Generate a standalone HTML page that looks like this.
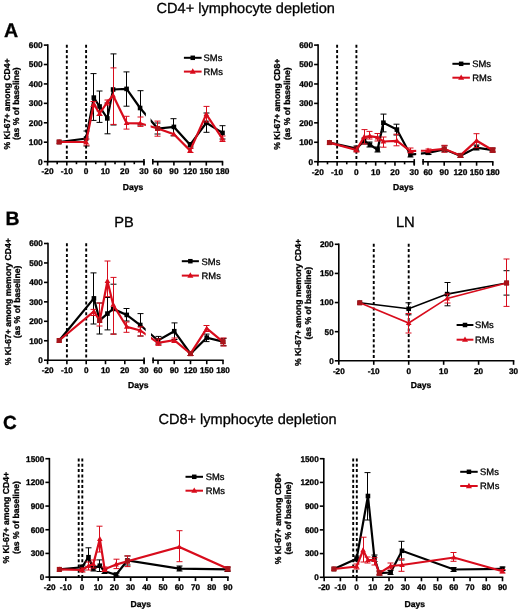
<!DOCTYPE html>
<html><head><meta charset="utf-8"><title>Ki-67 depletion figure</title>
<style>
html,body{margin:0;padding:0;background:#fff;}
body{width:520px;height:612px;overflow:hidden;}
svg{display:block;font-family:"Liberation Sans", sans-serif;will-change:transform;text-rendering:geometricPrecision;}
</style></head>
<body>
<svg width="520" height="612" viewBox="0 0 520 612">
<rect x="0" y="0" width="520" height="612" fill="#fff"/>
<text x="156.6" y="12.6" font-size="14.55" font-weight="normal" text-anchor="start" fill="#000" stroke="#000" stroke-width="0.3" >CD4+ lymphocyte depletion</text>
<text x="3.9" y="36.8" font-size="19.6" font-weight="bold" text-anchor="start" fill="#000" stroke="#000" stroke-width="0.3" >A</text>
<text x="5.5" y="224.5" font-size="19.4" font-weight="bold" text-anchor="start" fill="#000" stroke="#000" stroke-width="0.3" >B</text>
<text x="3.1" y="428.9" font-size="19.0" font-weight="bold" text-anchor="start" fill="#000" stroke="#000" stroke-width="0.3" >C</text>
<text x="114.2" y="227.3" font-size="14.6" font-weight="normal" text-anchor="start" fill="#000" stroke="#000" stroke-width="0.3" >PB</text>
<text x="395.9" y="227.4" font-size="14.8" font-weight="normal" text-anchor="start" fill="#000" stroke="#000" stroke-width="0.3" >LN</text>
<text x="158.4" y="423.6" font-size="14.55" font-weight="normal" text-anchor="start" fill="#000" stroke="#000" stroke-width="0.3" >CD8+ lymphocyte depletion</text>
<line x1="66.82" y1="44.7" x2="66.82" y2="161.6" stroke="#000" stroke-width="1.9" stroke-dasharray="3 2.3"/>
<line x1="86.1" y1="44.7" x2="86.1" y2="161.6" stroke="#000" stroke-width="1.9" stroke-dasharray="3 2.3"/>
<line x1="86.5" y1="131" x2="86.5" y2="146" stroke="#000" stroke-width="1.0" />
<line x1="83.5" y1="131" x2="89.5" y2="131" stroke="#000" stroke-width="1.0" />
<line x1="83.5" y1="146" x2="89.5" y2="146" stroke="#000" stroke-width="1.0" />
<line x1="93.5" y1="73.6" x2="93.5" y2="120.4" stroke="#000" stroke-width="1.0" />
<line x1="90.5" y1="73.6" x2="96.5" y2="73.6" stroke="#000" stroke-width="1.0" />
<line x1="90.5" y1="120.4" x2="96.5" y2="120.4" stroke="#000" stroke-width="1.0" />
<line x1="99.5" y1="91" x2="99.5" y2="122.4" stroke="#000" stroke-width="1.0" />
<line x1="96.5" y1="91" x2="102.5" y2="91" stroke="#000" stroke-width="1.0" />
<line x1="96.5" y1="122.4" x2="102.5" y2="122.4" stroke="#000" stroke-width="1.0" />
<line x1="107.5" y1="103" x2="107.5" y2="133.8" stroke="#000" stroke-width="1.0" />
<line x1="104.5" y1="103" x2="110.5" y2="103" stroke="#000" stroke-width="1.0" />
<line x1="104.5" y1="133.8" x2="110.5" y2="133.8" stroke="#000" stroke-width="1.0" />
<line x1="113.5" y1="53.9" x2="113.5" y2="125" stroke="#000" stroke-width="1.0" />
<line x1="110.5" y1="53.9" x2="116.5" y2="53.9" stroke="#000" stroke-width="1.0" />
<line x1="110.5" y1="125" x2="116.5" y2="125" stroke="#000" stroke-width="1.0" />
<line x1="126.5" y1="71.9" x2="126.5" y2="106.2" stroke="#000" stroke-width="1.0" />
<line x1="123.5" y1="71.9" x2="129.5" y2="71.9" stroke="#000" stroke-width="1.0" />
<line x1="123.5" y1="106.2" x2="129.5" y2="106.2" stroke="#000" stroke-width="1.0" />
<line x1="140.5" y1="90.7" x2="140.5" y2="125" stroke="#000" stroke-width="1.0" />
<line x1="137.5" y1="90.7" x2="143.5" y2="90.7" stroke="#000" stroke-width="1.0" />
<line x1="137.5" y1="125" x2="143.5" y2="125" stroke="#000" stroke-width="1.0" />
<line x1="157.5" y1="123" x2="157.5" y2="134" stroke="#000" stroke-width="1.0" />
<line x1="154.5" y1="123" x2="160.5" y2="123" stroke="#000" stroke-width="1.0" />
<line x1="154.5" y1="134" x2="160.5" y2="134" stroke="#000" stroke-width="1.0" />
<line x1="173.5" y1="118.7" x2="173.5" y2="135.8" stroke="#000" stroke-width="1.0" />
<line x1="170.5" y1="118.7" x2="176.5" y2="118.7" stroke="#000" stroke-width="1.0" />
<line x1="170.5" y1="135.8" x2="176.5" y2="135.8" stroke="#000" stroke-width="1.0" />
<line x1="190.5" y1="142.5" x2="190.5" y2="147" stroke="#000" stroke-width="1.0" />
<line x1="187.5" y1="142.5" x2="193.5" y2="142.5" stroke="#000" stroke-width="1.0" />
<line x1="187.5" y1="147" x2="193.5" y2="147" stroke="#000" stroke-width="1.0" />
<line x1="206.5" y1="113" x2="206.5" y2="132.3" stroke="#000" stroke-width="1.0" />
<line x1="203.5" y1="113" x2="209.5" y2="113" stroke="#000" stroke-width="1.0" />
<line x1="203.5" y1="132.3" x2="209.5" y2="132.3" stroke="#000" stroke-width="1.0" />
<line x1="222.5" y1="125.7" x2="222.5" y2="139" stroke="#000" stroke-width="1.0" />
<line x1="219.5" y1="125.7" x2="225.5" y2="125.7" stroke="#000" stroke-width="1.0" />
<line x1="219.5" y1="139" x2="225.5" y2="139" stroke="#000" stroke-width="1.0" />
<polyline points="59.11,142 86.1,138.5 93.81,97.6 99.6,106.5 107.31,118.4 113.09,89.5 126.59,88.9 140.08,108 157.7,128.5 173.9,126.9 190.1,144.8 206.3,122.8 222.5,132.9" fill="none" stroke="#000" stroke-width="2.2" stroke-linejoin="miter"/>
<rect x="56.81" y="139.7" width="4.6" height="4.6" fill="#000"/>
<rect x="83.8" y="136.2" width="4.6" height="4.6" fill="#000"/>
<rect x="91.51" y="95.3" width="4.6" height="4.6" fill="#000"/>
<rect x="97.3" y="104.2" width="4.6" height="4.6" fill="#000"/>
<rect x="105.01" y="116.1" width="4.6" height="4.6" fill="#000"/>
<rect x="110.79" y="87.2" width="4.6" height="4.6" fill="#000"/>
<rect x="124.29" y="86.6" width="4.6" height="4.6" fill="#000"/>
<rect x="137.78" y="105.7" width="4.6" height="4.6" fill="#000"/>
<rect x="155.4" y="126.2" width="4.6" height="4.6" fill="#000"/>
<rect x="171.6" y="124.6" width="4.6" height="4.6" fill="#000"/>
<rect x="187.8" y="142.5" width="4.6" height="4.6" fill="#000"/>
<rect x="204" y="120.5" width="4.6" height="4.6" fill="#000"/>
<rect x="220.2" y="130.6" width="4.6" height="4.6" fill="#000"/>
<line x1="86.5" y1="139" x2="86.5" y2="145" stroke="#d80c1c" stroke-width="1.0" />
<line x1="83.5" y1="139" x2="89.5" y2="139" stroke="#d80c1c" stroke-width="1.0" />
<line x1="83.5" y1="145" x2="89.5" y2="145" stroke="#d80c1c" stroke-width="1.0" />
<line x1="93.5" y1="101.5" x2="93.5" y2="106.5" stroke="#d80c1c" stroke-width="1.0" />
<line x1="90.5" y1="101.5" x2="96.5" y2="101.5" stroke="#d80c1c" stroke-width="1.0" />
<line x1="90.5" y1="106.5" x2="96.5" y2="106.5" stroke="#d80c1c" stroke-width="1.0" />
<line x1="99.5" y1="111" x2="99.5" y2="115.5" stroke="#d80c1c" stroke-width="1.0" />
<line x1="96.5" y1="111" x2="102.5" y2="111" stroke="#d80c1c" stroke-width="1.0" />
<line x1="96.5" y1="115.5" x2="102.5" y2="115.5" stroke="#d80c1c" stroke-width="1.0" />
<line x1="107.5" y1="100" x2="107.5" y2="105" stroke="#d80c1c" stroke-width="1.0" />
<line x1="104.5" y1="100" x2="110.5" y2="100" stroke="#d80c1c" stroke-width="1.0" />
<line x1="104.5" y1="105" x2="110.5" y2="105" stroke="#d80c1c" stroke-width="1.0" />
<line x1="113.5" y1="67.9" x2="113.5" y2="124.4" stroke="#d80c1c" stroke-width="1.0" />
<line x1="110.5" y1="67.9" x2="116.5" y2="67.9" stroke="#d80c1c" stroke-width="1.0" />
<line x1="110.5" y1="124.4" x2="116.5" y2="124.4" stroke="#d80c1c" stroke-width="1.0" />
<line x1="126.5" y1="116.3" x2="126.5" y2="129.1" stroke="#d80c1c" stroke-width="1.0" />
<line x1="123.5" y1="116.3" x2="129.5" y2="116.3" stroke="#d80c1c" stroke-width="1.0" />
<line x1="123.5" y1="129.1" x2="129.5" y2="129.1" stroke="#d80c1c" stroke-width="1.0" />
<line x1="140.5" y1="117" x2="140.5" y2="126.4" stroke="#d80c1c" stroke-width="1.0" />
<line x1="137.5" y1="117" x2="143.5" y2="117" stroke="#d80c1c" stroke-width="1.0" />
<line x1="137.5" y1="126.4" x2="143.5" y2="126.4" stroke="#d80c1c" stroke-width="1.0" />
<line x1="157.5" y1="121.1" x2="157.5" y2="136.2" stroke="#d80c1c" stroke-width="1.0" />
<line x1="154.5" y1="121.1" x2="160.5" y2="121.1" stroke="#d80c1c" stroke-width="1.0" />
<line x1="154.5" y1="136.2" x2="160.5" y2="136.2" stroke="#d80c1c" stroke-width="1.0" />
<line x1="190.5" y1="148.5" x2="190.5" y2="152.5" stroke="#d80c1c" stroke-width="1.0" />
<line x1="187.5" y1="148.5" x2="193.5" y2="148.5" stroke="#d80c1c" stroke-width="1.0" />
<line x1="187.5" y1="152.5" x2="193.5" y2="152.5" stroke="#d80c1c" stroke-width="1.0" />
<line x1="206.5" y1="106.4" x2="206.5" y2="122" stroke="#d80c1c" stroke-width="1.0" />
<line x1="203.5" y1="106.4" x2="209.5" y2="106.4" stroke="#d80c1c" stroke-width="1.0" />
<line x1="203.5" y1="122" x2="209.5" y2="122" stroke="#d80c1c" stroke-width="1.0" />
<line x1="222.5" y1="136" x2="222.5" y2="141.5" stroke="#d80c1c" stroke-width="1.0" />
<line x1="219.5" y1="136" x2="225.5" y2="136" stroke="#d80c1c" stroke-width="1.0" />
<line x1="219.5" y1="141.5" x2="225.5" y2="141.5" stroke="#d80c1c" stroke-width="1.0" />
<polyline points="59.11,142 86.1,141.9 93.81,104 99.6,113.5 107.31,102.2 113.09,95.5 126.59,123.1 140.08,123.3 157.7,128.5 173.9,134.2 190.1,150.6 206.3,114.3 222.5,138.8" fill="none" stroke="#d80c1c" stroke-width="2.2" stroke-linejoin="miter"/>
<path d="M59.11 138.98L61.91 144.02L56.31 144.02Z" fill="#d80c1c"/>
<rect x="56.61" y="139.5" width="5" height="5" fill="#a8141a"/>
<path d="M86.1 138.88L88.9 143.92L83.3 143.92Z" fill="#d80c1c"/>
<path d="M93.81 100.98L96.61 106.02L91.01 106.02Z" fill="#d80c1c"/>
<path d="M99.6 110.48L102.4 115.52L96.8 115.52Z" fill="#d80c1c"/>
<path d="M107.31 99.18L110.11 104.22L104.51 104.22Z" fill="#d80c1c"/>
<path d="M113.09 92.48L115.89 97.52L110.29 97.52Z" fill="#d80c1c"/>
<path d="M126.59 120.08L129.39 125.12L123.79 125.12Z" fill="#d80c1c"/>
<path d="M140.08 120.28L142.88 125.32L137.28 125.32Z" fill="#d80c1c"/>
<path d="M157.7 125.48L160.5 130.52L154.9 130.52Z" fill="#d80c1c"/>
<rect x="155.2" y="126" width="5" height="5" fill="#a8141a"/>
<path d="M173.9 131.18L176.7 136.22L171.1 136.22Z" fill="#d80c1c"/>
<path d="M190.1 147.58L192.9 152.62L187.3 152.62Z" fill="#d80c1c"/>
<path d="M206.3 111.28L209.1 116.32L203.5 116.32Z" fill="#d80c1c"/>
<path d="M222.5 135.78L225.3 140.82L219.7 140.82Z" fill="#d80c1c"/>
<rect x="145.9" y="40" width="4.7" height="118.6" fill="#fff"/>
<line x1="47.8" y1="44.3" x2="47.8" y2="162.4" stroke="#000" stroke-width="1.6" />
<line x1="43.8" y1="161.6" x2="47.8" y2="161.6" stroke="#000" stroke-width="1.6" />
<text x="42.7" y="164.5" font-size="8.3" font-weight="bold" text-anchor="end" fill="#000" stroke="#000" stroke-width="0.3" >0</text>
<line x1="43.8" y1="142.18" x2="47.8" y2="142.18" stroke="#000" stroke-width="1.6" />
<text x="42.7" y="145.08" font-size="8.3" font-weight="bold" text-anchor="end" fill="#000" stroke="#000" stroke-width="0.3" >100</text>
<line x1="43.8" y1="122.77" x2="47.8" y2="122.77" stroke="#000" stroke-width="1.6" />
<text x="42.7" y="125.67" font-size="8.3" font-weight="bold" text-anchor="end" fill="#000" stroke="#000" stroke-width="0.3" >200</text>
<line x1="43.8" y1="103.35" x2="47.8" y2="103.35" stroke="#000" stroke-width="1.6" />
<text x="42.7" y="106.25" font-size="8.3" font-weight="bold" text-anchor="end" fill="#000" stroke="#000" stroke-width="0.3" >300</text>
<line x1="43.8" y1="83.93" x2="47.8" y2="83.93" stroke="#000" stroke-width="1.6" />
<text x="42.7" y="86.83" font-size="8.3" font-weight="bold" text-anchor="end" fill="#000" stroke="#000" stroke-width="0.3" >400</text>
<line x1="43.8" y1="64.52" x2="47.8" y2="64.52" stroke="#000" stroke-width="1.6" />
<text x="42.7" y="67.42" font-size="8.3" font-weight="bold" text-anchor="end" fill="#000" stroke="#000" stroke-width="0.3" >500</text>
<line x1="43.8" y1="45.1" x2="47.8" y2="45.1" stroke="#000" stroke-width="1.6" />
<text x="42.7" y="48" font-size="8.3" font-weight="bold" text-anchor="end" fill="#000" stroke="#000" stroke-width="0.3" >600</text>
<line x1="47" y1="161.6" x2="144.74" y2="161.6" stroke="#000" stroke-width="1.6" />
<line x1="47.54" y1="161.6" x2="47.54" y2="165.6" stroke="#000" stroke-width="1.6" />
<text x="47.54" y="174.4" font-size="8.3" font-weight="bold" text-anchor="middle" fill="#000" stroke="#000" stroke-width="0.3" >-20</text>
<line x1="66.82" y1="161.6" x2="66.82" y2="165.6" stroke="#000" stroke-width="1.6" />
<text x="66.82" y="174.4" font-size="8.3" font-weight="bold" text-anchor="middle" fill="#000" stroke="#000" stroke-width="0.3" >-10</text>
<line x1="86.1" y1="161.6" x2="86.1" y2="165.6" stroke="#000" stroke-width="1.6" />
<text x="86.1" y="174.4" font-size="8.3" font-weight="bold" text-anchor="middle" fill="#000" stroke="#000" stroke-width="0.3" >0</text>
<line x1="105.38" y1="161.6" x2="105.38" y2="165.6" stroke="#000" stroke-width="1.6" />
<text x="105.38" y="174.4" font-size="8.3" font-weight="bold" text-anchor="middle" fill="#000" stroke="#000" stroke-width="0.3" >10</text>
<line x1="124.66" y1="161.6" x2="124.66" y2="165.6" stroke="#000" stroke-width="1.6" />
<text x="124.66" y="174.4" font-size="8.3" font-weight="bold" text-anchor="middle" fill="#000" stroke="#000" stroke-width="0.3" >20</text>
<line x1="143.94" y1="161.6" x2="143.94" y2="165.6" stroke="#000" stroke-width="1.6" />
<text x="143.94" y="174.4" font-size="8.3" font-weight="bold" text-anchor="middle" fill="#000" stroke="#000" stroke-width="0.3" >30</text>
<line x1="57.18" y1="161.6" x2="57.18" y2="164.2" stroke="#000" stroke-width="1.6" />
<line x1="76.46" y1="161.6" x2="76.46" y2="164.2" stroke="#000" stroke-width="1.6" />
<line x1="95.74" y1="161.6" x2="95.74" y2="164.2" stroke="#000" stroke-width="1.6" />
<line x1="115.02" y1="161.6" x2="115.02" y2="164.2" stroke="#000" stroke-width="1.6" />
<line x1="134.3" y1="161.6" x2="134.3" y2="164.2" stroke="#000" stroke-width="1.6" />
<line x1="143.94" y1="159" x2="143.94" y2="164.6" stroke="#000" stroke-width="1.6" />
<line x1="152" y1="161.6" x2="223.2" y2="161.6" stroke="#000" stroke-width="1.6" />
<line x1="157.7" y1="161.6" x2="157.7" y2="165.6" stroke="#000" stroke-width="1.6" />
<text x="157.7" y="174.4" font-size="8.3" font-weight="bold" text-anchor="middle" fill="#000" stroke="#000" stroke-width="0.3" >60</text>
<line x1="173.9" y1="161.6" x2="173.9" y2="165.6" stroke="#000" stroke-width="1.6" />
<text x="173.9" y="174.4" font-size="8.3" font-weight="bold" text-anchor="middle" fill="#000" stroke="#000" stroke-width="0.3" >90</text>
<line x1="190.1" y1="161.6" x2="190.1" y2="165.6" stroke="#000" stroke-width="1.6" />
<text x="190.1" y="174.4" font-size="8.3" font-weight="bold" text-anchor="middle" fill="#000" stroke="#000" stroke-width="0.3" >120</text>
<line x1="206.3" y1="161.6" x2="206.3" y2="165.6" stroke="#000" stroke-width="1.6" />
<text x="206.3" y="174.4" font-size="8.3" font-weight="bold" text-anchor="middle" fill="#000" stroke="#000" stroke-width="0.3" >150</text>
<line x1="222.5" y1="161.6" x2="222.5" y2="165.6" stroke="#000" stroke-width="1.6" />
<text x="222.5" y="174.4" font-size="8.3" font-weight="bold" text-anchor="middle" fill="#000" stroke="#000" stroke-width="0.3" >180</text>
<line x1="152.8" y1="159" x2="152.8" y2="164.6" stroke="#000" stroke-width="1.6" />
<text x="122.7" y="189.5" font-size="8.6" font-weight="bold" text-anchor="start" fill="#000" stroke="#000" stroke-width="0.3" >Days</text>
<line x1="183.9" y1="57.8" x2="201.6" y2="57.8" stroke="#000" stroke-width="2.0" />
<rect x="190.5" y="55.55" width="4.5" height="4.5" fill="#000"/>
<text x="203.6" y="61.1" font-size="9.4" font-weight="normal" text-anchor="start" fill="#000" stroke="#000" stroke-width="0.3" >SMs</text>
<line x1="183.9" y1="71.6" x2="201.6" y2="71.6" stroke="#d80c1c" stroke-width="2.0" />
<path d="M192.75 68.36L195.75 73.76L189.75 73.76Z" fill="#d80c1c"/>
<text x="203.6" y="74.9" font-size="9.4" font-weight="normal" text-anchor="start" fill="#000" stroke="#000" stroke-width="0.3" >RMs</text>
<text x="0" y="0" font-size="8.6" font-weight="bold" text-anchor="middle" fill="#000" stroke="#000" stroke-width="0.3" transform="translate(9.6,104) rotate(-90)">% Ki-67+ among CD4+</text>
<text x="0" y="0" font-size="8.6" font-weight="bold" text-anchor="middle" fill="#000" stroke="#000" stroke-width="0.3" transform="translate(19.4,103.75) rotate(-90)">(as % of baseline)</text>
<line x1="337.12" y1="44.7" x2="337.12" y2="161.7" stroke="#000" stroke-width="1.9" stroke-dasharray="3 2.3"/>
<line x1="356.4" y1="44.7" x2="356.4" y2="161.7" stroke="#000" stroke-width="1.9" stroke-dasharray="3 2.3"/>
<line x1="356.5" y1="146" x2="356.5" y2="151" stroke="#000" stroke-width="1.0" />
<line x1="353.5" y1="146" x2="359.5" y2="146" stroke="#000" stroke-width="1.0" />
<line x1="353.5" y1="151" x2="359.5" y2="151" stroke="#000" stroke-width="1.0" />
<line x1="364.5" y1="138" x2="364.5" y2="144" stroke="#000" stroke-width="1.0" />
<line x1="361.5" y1="138" x2="367.5" y2="138" stroke="#000" stroke-width="1.0" />
<line x1="361.5" y1="144" x2="367.5" y2="144" stroke="#000" stroke-width="1.0" />
<line x1="369.5" y1="142" x2="369.5" y2="147" stroke="#000" stroke-width="1.0" />
<line x1="366.5" y1="142" x2="372.5" y2="142" stroke="#000" stroke-width="1.0" />
<line x1="366.5" y1="147" x2="372.5" y2="147" stroke="#000" stroke-width="1.0" />
<line x1="377.5" y1="147" x2="377.5" y2="152" stroke="#000" stroke-width="1.0" />
<line x1="374.5" y1="147" x2="380.5" y2="147" stroke="#000" stroke-width="1.0" />
<line x1="374.5" y1="152" x2="380.5" y2="152" stroke="#000" stroke-width="1.0" />
<line x1="383.5" y1="114.1" x2="383.5" y2="131.9" stroke="#000" stroke-width="1.0" />
<line x1="380.5" y1="114.1" x2="386.5" y2="114.1" stroke="#000" stroke-width="1.0" />
<line x1="380.5" y1="131.9" x2="386.5" y2="131.9" stroke="#000" stroke-width="1.0" />
<line x1="396.5" y1="124.2" x2="396.5" y2="135" stroke="#000" stroke-width="1.0" />
<line x1="393.5" y1="124.2" x2="399.5" y2="124.2" stroke="#000" stroke-width="1.0" />
<line x1="393.5" y1="135" x2="399.5" y2="135" stroke="#000" stroke-width="1.0" />
<line x1="410.5" y1="152" x2="410.5" y2="157" stroke="#000" stroke-width="1.0" />
<line x1="407.5" y1="152" x2="413.5" y2="152" stroke="#000" stroke-width="1.0" />
<line x1="407.5" y1="157" x2="413.5" y2="157" stroke="#000" stroke-width="1.0" />
<line x1="428.5" y1="151" x2="428.5" y2="154.5" stroke="#000" stroke-width="1.0" />
<line x1="425.5" y1="151" x2="431.5" y2="151" stroke="#000" stroke-width="1.0" />
<line x1="425.5" y1="154.5" x2="431.5" y2="154.5" stroke="#000" stroke-width="1.0" />
<line x1="444.5" y1="145.8" x2="444.5" y2="151.9" stroke="#000" stroke-width="1.0" />
<line x1="441.5" y1="145.8" x2="447.5" y2="145.8" stroke="#000" stroke-width="1.0" />
<line x1="441.5" y1="151.9" x2="447.5" y2="151.9" stroke="#000" stroke-width="1.0" />
<line x1="460.5" y1="154" x2="460.5" y2="157.5" stroke="#000" stroke-width="1.0" />
<line x1="457.5" y1="154" x2="463.5" y2="154" stroke="#000" stroke-width="1.0" />
<line x1="457.5" y1="157.5" x2="463.5" y2="157.5" stroke="#000" stroke-width="1.0" />
<line x1="476.5" y1="145" x2="476.5" y2="150" stroke="#000" stroke-width="1.0" />
<line x1="473.5" y1="145" x2="479.5" y2="145" stroke="#000" stroke-width="1.0" />
<line x1="473.5" y1="150" x2="479.5" y2="150" stroke="#000" stroke-width="1.0" />
<line x1="492.5" y1="148" x2="492.5" y2="152" stroke="#000" stroke-width="1.0" />
<line x1="489.5" y1="148" x2="495.5" y2="148" stroke="#000" stroke-width="1.0" />
<line x1="489.5" y1="152" x2="495.5" y2="152" stroke="#000" stroke-width="1.0" />
<polyline points="329.41,142.6 356.4,148.5 364.11,141 369.9,144.7 377.61,149.6 383.39,122.7 396.89,129.6 410.38,154.7 428,152.8 444.2,149.3 460.4,155.7 476.6,147.6 492.8,150.2" fill="none" stroke="#000" stroke-width="2.2" stroke-linejoin="miter"/>
<rect x="327.11" y="140.3" width="4.6" height="4.6" fill="#000"/>
<rect x="354.1" y="146.2" width="4.6" height="4.6" fill="#000"/>
<rect x="361.81" y="138.7" width="4.6" height="4.6" fill="#000"/>
<rect x="367.6" y="142.4" width="4.6" height="4.6" fill="#000"/>
<rect x="375.31" y="147.3" width="4.6" height="4.6" fill="#000"/>
<rect x="381.09" y="120.4" width="4.6" height="4.6" fill="#000"/>
<rect x="394.59" y="127.3" width="4.6" height="4.6" fill="#000"/>
<rect x="408.08" y="152.4" width="4.6" height="4.6" fill="#000"/>
<rect x="425.7" y="150.5" width="4.6" height="4.6" fill="#000"/>
<rect x="441.9" y="147" width="4.6" height="4.6" fill="#000"/>
<rect x="458.1" y="153.4" width="4.6" height="4.6" fill="#000"/>
<rect x="474.3" y="145.3" width="4.6" height="4.6" fill="#000"/>
<rect x="490.5" y="147.9" width="4.6" height="4.6" fill="#000"/>
<line x1="356.5" y1="147" x2="356.5" y2="152" stroke="#d80c1c" stroke-width="1.0" />
<line x1="353.5" y1="147" x2="359.5" y2="147" stroke="#d80c1c" stroke-width="1.0" />
<line x1="353.5" y1="152" x2="359.5" y2="152" stroke="#d80c1c" stroke-width="1.0" />
<line x1="364.5" y1="129.6" x2="364.5" y2="144" stroke="#d80c1c" stroke-width="1.0" />
<line x1="361.5" y1="129.6" x2="367.5" y2="129.6" stroke="#d80c1c" stroke-width="1.0" />
<line x1="361.5" y1="144" x2="367.5" y2="144" stroke="#d80c1c" stroke-width="1.0" />
<line x1="369.5" y1="131.4" x2="369.5" y2="139" stroke="#d80c1c" stroke-width="1.0" />
<line x1="366.5" y1="131.4" x2="372.5" y2="131.4" stroke="#d80c1c" stroke-width="1.0" />
<line x1="366.5" y1="139" x2="372.5" y2="139" stroke="#d80c1c" stroke-width="1.0" />
<line x1="377.5" y1="133.5" x2="377.5" y2="141" stroke="#d80c1c" stroke-width="1.0" />
<line x1="374.5" y1="133.5" x2="380.5" y2="133.5" stroke="#d80c1c" stroke-width="1.0" />
<line x1="374.5" y1="141" x2="380.5" y2="141" stroke="#d80c1c" stroke-width="1.0" />
<line x1="383.5" y1="137" x2="383.5" y2="147.2" stroke="#d80c1c" stroke-width="1.0" />
<line x1="380.5" y1="137" x2="386.5" y2="137" stroke="#d80c1c" stroke-width="1.0" />
<line x1="380.5" y1="147.2" x2="386.5" y2="147.2" stroke="#d80c1c" stroke-width="1.0" />
<line x1="396.5" y1="134.2" x2="396.5" y2="145.8" stroke="#d80c1c" stroke-width="1.0" />
<line x1="393.5" y1="134.2" x2="399.5" y2="134.2" stroke="#d80c1c" stroke-width="1.0" />
<line x1="393.5" y1="145.8" x2="399.5" y2="145.8" stroke="#d80c1c" stroke-width="1.0" />
<line x1="410.5" y1="148" x2="410.5" y2="152.7" stroke="#d80c1c" stroke-width="1.0" />
<line x1="407.5" y1="148" x2="413.5" y2="148" stroke="#d80c1c" stroke-width="1.0" />
<line x1="407.5" y1="152.7" x2="413.5" y2="152.7" stroke="#d80c1c" stroke-width="1.0" />
<line x1="428.5" y1="149" x2="428.5" y2="152" stroke="#d80c1c" stroke-width="1.0" />
<line x1="425.5" y1="149" x2="431.5" y2="149" stroke="#d80c1c" stroke-width="1.0" />
<line x1="425.5" y1="152" x2="431.5" y2="152" stroke="#d80c1c" stroke-width="1.0" />
<line x1="444.5" y1="145.3" x2="444.5" y2="152.2" stroke="#d80c1c" stroke-width="1.0" />
<line x1="441.5" y1="145.3" x2="447.5" y2="145.3" stroke="#d80c1c" stroke-width="1.0" />
<line x1="441.5" y1="152.2" x2="447.5" y2="152.2" stroke="#d80c1c" stroke-width="1.0" />
<line x1="460.5" y1="154" x2="460.5" y2="157" stroke="#d80c1c" stroke-width="1.0" />
<line x1="457.5" y1="154" x2="463.5" y2="154" stroke="#d80c1c" stroke-width="1.0" />
<line x1="457.5" y1="157" x2="463.5" y2="157" stroke="#d80c1c" stroke-width="1.0" />
<line x1="476.5" y1="133.7" x2="476.5" y2="147.7" stroke="#d80c1c" stroke-width="1.0" />
<line x1="473.5" y1="133.7" x2="479.5" y2="133.7" stroke="#d80c1c" stroke-width="1.0" />
<line x1="473.5" y1="147.7" x2="479.5" y2="147.7" stroke="#d80c1c" stroke-width="1.0" />
<line x1="492.5" y1="148" x2="492.5" y2="152" stroke="#d80c1c" stroke-width="1.0" />
<line x1="489.5" y1="148" x2="495.5" y2="148" stroke="#d80c1c" stroke-width="1.0" />
<line x1="489.5" y1="152" x2="495.5" y2="152" stroke="#d80c1c" stroke-width="1.0" />
<polyline points="329.41,142.6 356.4,150 364.11,137 369.9,136.1 377.61,137.4 383.39,141.5 396.89,140.8 410.38,151.2 428,150.5 444.2,148.8 460.4,155.4 476.6,140.7 492.8,150.2" fill="none" stroke="#d80c1c" stroke-width="2.2" stroke-linejoin="miter"/>
<path d="M329.41 139.58L332.21 144.62L326.61 144.62Z" fill="#d80c1c"/>
<rect x="326.91" y="140.1" width="5" height="5" fill="#a8141a"/>
<path d="M356.4 146.98L359.2 152.02L353.6 152.02Z" fill="#d80c1c"/>
<path d="M364.11 133.98L366.91 139.02L361.31 139.02Z" fill="#d80c1c"/>
<path d="M369.9 133.08L372.7 138.12L367.1 138.12Z" fill="#d80c1c"/>
<path d="M377.61 134.38L380.41 139.42L374.81 139.42Z" fill="#d80c1c"/>
<path d="M383.39 138.48L386.19 143.52L380.59 143.52Z" fill="#d80c1c"/>
<path d="M396.89 137.78L399.69 142.82L394.09 142.82Z" fill="#d80c1c"/>
<path d="M410.38 148.18L413.18 153.22L407.58 153.22Z" fill="#d80c1c"/>
<path d="M428 147.48L430.8 152.52L425.2 152.52Z" fill="#d80c1c"/>
<path d="M444.2 145.78L447 150.82L441.4 150.82Z" fill="#d80c1c"/>
<rect x="441.7" y="146.3" width="5" height="5" fill="#a8141a"/>
<path d="M460.4 152.38L463.2 157.42L457.6 157.42Z" fill="#d80c1c"/>
<rect x="457.9" y="152.9" width="5" height="5" fill="#a8141a"/>
<path d="M476.6 137.68L479.4 142.72L473.8 142.72Z" fill="#d80c1c"/>
<path d="M492.8 147.18L495.6 152.22L490 152.22Z" fill="#d80c1c"/>
<rect x="490.3" y="147.7" width="5" height="5" fill="#a8141a"/>
<rect x="416.2" y="40" width="4.7" height="118.7" fill="#fff"/>
<line x1="318.1" y1="44.3" x2="318.1" y2="162.5" stroke="#000" stroke-width="1.6" />
<line x1="314.1" y1="161.7" x2="318.1" y2="161.7" stroke="#000" stroke-width="1.6" />
<text x="313" y="164.6" font-size="8.3" font-weight="bold" text-anchor="end" fill="#000" stroke="#000" stroke-width="0.3" >0</text>
<line x1="314.1" y1="142.27" x2="318.1" y2="142.27" stroke="#000" stroke-width="1.6" />
<text x="313" y="145.17" font-size="8.3" font-weight="bold" text-anchor="end" fill="#000" stroke="#000" stroke-width="0.3" >100</text>
<line x1="314.1" y1="122.83" x2="318.1" y2="122.83" stroke="#000" stroke-width="1.6" />
<text x="313" y="125.73" font-size="8.3" font-weight="bold" text-anchor="end" fill="#000" stroke="#000" stroke-width="0.3" >200</text>
<line x1="314.1" y1="103.4" x2="318.1" y2="103.4" stroke="#000" stroke-width="1.6" />
<text x="313" y="106.3" font-size="8.3" font-weight="bold" text-anchor="end" fill="#000" stroke="#000" stroke-width="0.3" >300</text>
<line x1="314.1" y1="83.97" x2="318.1" y2="83.97" stroke="#000" stroke-width="1.6" />
<text x="313" y="86.87" font-size="8.3" font-weight="bold" text-anchor="end" fill="#000" stroke="#000" stroke-width="0.3" >400</text>
<line x1="314.1" y1="64.53" x2="318.1" y2="64.53" stroke="#000" stroke-width="1.6" />
<text x="313" y="67.43" font-size="8.3" font-weight="bold" text-anchor="end" fill="#000" stroke="#000" stroke-width="0.3" >500</text>
<line x1="314.1" y1="45.1" x2="318.1" y2="45.1" stroke="#000" stroke-width="1.6" />
<text x="313" y="48" font-size="8.3" font-weight="bold" text-anchor="end" fill="#000" stroke="#000" stroke-width="0.3" >600</text>
<line x1="317.3" y1="161.7" x2="415.04" y2="161.7" stroke="#000" stroke-width="1.6" />
<line x1="317.84" y1="161.7" x2="317.84" y2="165.7" stroke="#000" stroke-width="1.6" />
<text x="317.84" y="174.5" font-size="8.3" font-weight="bold" text-anchor="middle" fill="#000" stroke="#000" stroke-width="0.3" >-20</text>
<line x1="337.12" y1="161.7" x2="337.12" y2="165.7" stroke="#000" stroke-width="1.6" />
<text x="337.12" y="174.5" font-size="8.3" font-weight="bold" text-anchor="middle" fill="#000" stroke="#000" stroke-width="0.3" >-10</text>
<line x1="356.4" y1="161.7" x2="356.4" y2="165.7" stroke="#000" stroke-width="1.6" />
<text x="356.4" y="174.5" font-size="8.3" font-weight="bold" text-anchor="middle" fill="#000" stroke="#000" stroke-width="0.3" >0</text>
<line x1="375.68" y1="161.7" x2="375.68" y2="165.7" stroke="#000" stroke-width="1.6" />
<text x="375.68" y="174.5" font-size="8.3" font-weight="bold" text-anchor="middle" fill="#000" stroke="#000" stroke-width="0.3" >10</text>
<line x1="394.96" y1="161.7" x2="394.96" y2="165.7" stroke="#000" stroke-width="1.6" />
<text x="394.96" y="174.5" font-size="8.3" font-weight="bold" text-anchor="middle" fill="#000" stroke="#000" stroke-width="0.3" >20</text>
<line x1="414.24" y1="161.7" x2="414.24" y2="165.7" stroke="#000" stroke-width="1.6" />
<text x="414.24" y="174.5" font-size="8.3" font-weight="bold" text-anchor="middle" fill="#000" stroke="#000" stroke-width="0.3" >30</text>
<line x1="327.48" y1="161.7" x2="327.48" y2="164.3" stroke="#000" stroke-width="1.6" />
<line x1="346.76" y1="161.7" x2="346.76" y2="164.3" stroke="#000" stroke-width="1.6" />
<line x1="366.04" y1="161.7" x2="366.04" y2="164.3" stroke="#000" stroke-width="1.6" />
<line x1="385.32" y1="161.7" x2="385.32" y2="164.3" stroke="#000" stroke-width="1.6" />
<line x1="404.6" y1="161.7" x2="404.6" y2="164.3" stroke="#000" stroke-width="1.6" />
<line x1="414.24" y1="159.1" x2="414.24" y2="164.7" stroke="#000" stroke-width="1.6" />
<line x1="422.3" y1="161.7" x2="493.5" y2="161.7" stroke="#000" stroke-width="1.6" />
<line x1="428" y1="161.7" x2="428" y2="165.7" stroke="#000" stroke-width="1.6" />
<text x="428" y="174.5" font-size="8.3" font-weight="bold" text-anchor="middle" fill="#000" stroke="#000" stroke-width="0.3" >60</text>
<line x1="444.2" y1="161.7" x2="444.2" y2="165.7" stroke="#000" stroke-width="1.6" />
<text x="444.2" y="174.5" font-size="8.3" font-weight="bold" text-anchor="middle" fill="#000" stroke="#000" stroke-width="0.3" >90</text>
<line x1="460.4" y1="161.7" x2="460.4" y2="165.7" stroke="#000" stroke-width="1.6" />
<text x="460.4" y="174.5" font-size="8.3" font-weight="bold" text-anchor="middle" fill="#000" stroke="#000" stroke-width="0.3" >120</text>
<line x1="476.6" y1="161.7" x2="476.6" y2="165.7" stroke="#000" stroke-width="1.6" />
<text x="476.6" y="174.5" font-size="8.3" font-weight="bold" text-anchor="middle" fill="#000" stroke="#000" stroke-width="0.3" >150</text>
<line x1="492.8" y1="161.7" x2="492.8" y2="165.7" stroke="#000" stroke-width="1.6" />
<text x="492.8" y="174.5" font-size="8.3" font-weight="bold" text-anchor="middle" fill="#000" stroke="#000" stroke-width="0.3" >180</text>
<line x1="423.1" y1="159.1" x2="423.1" y2="164.7" stroke="#000" stroke-width="1.6" />
<text x="393" y="189.6" font-size="8.6" font-weight="bold" text-anchor="start" fill="#000" stroke="#000" stroke-width="0.3" >Days</text>
<line x1="452.4" y1="63.8" x2="469.9" y2="63.8" stroke="#000" stroke-width="2.0" />
<rect x="458.9" y="61.55" width="4.5" height="4.5" fill="#000"/>
<text x="472.3" y="67.1" font-size="9.4" font-weight="normal" text-anchor="start" fill="#000" stroke="#000" stroke-width="0.3" >SMs</text>
<line x1="452.4" y1="77.7" x2="469.9" y2="77.7" stroke="#d80c1c" stroke-width="2.0" />
<path d="M461.15 74.46L464.15 79.86L458.15 79.86Z" fill="#d80c1c"/>
<text x="472.3" y="81" font-size="9.4" font-weight="normal" text-anchor="start" fill="#000" stroke="#000" stroke-width="0.3" >RMs</text>
<text x="0" y="0" font-size="8.6" font-weight="bold" text-anchor="middle" fill="#000" stroke="#000" stroke-width="0.3" transform="translate(280,104.25) rotate(-90)">% Ki-67+ among CD8+</text>
<text x="0" y="0" font-size="8.6" font-weight="bold" text-anchor="middle" fill="#000" stroke="#000" stroke-width="0.3" transform="translate(289.6,103.75) rotate(-90)">(as % of baseline)</text>
<line x1="66.9" y1="243.3" x2="66.9" y2="360.2" stroke="#000" stroke-width="1.9" stroke-dasharray="3 2.3"/>
<line x1="86.2" y1="243.3" x2="86.2" y2="360.2" stroke="#000" stroke-width="1.9" stroke-dasharray="3 2.3"/>
<line x1="93.5" y1="272.9" x2="93.5" y2="324" stroke="#000" stroke-width="1.0" />
<line x1="90.5" y1="272.9" x2="96.5" y2="272.9" stroke="#000" stroke-width="1.0" />
<line x1="90.5" y1="324" x2="96.5" y2="324" stroke="#000" stroke-width="1.0" />
<line x1="99.5" y1="303" x2="99.5" y2="334" stroke="#000" stroke-width="1.0" />
<line x1="96.5" y1="303" x2="102.5" y2="303" stroke="#000" stroke-width="1.0" />
<line x1="96.5" y1="334" x2="102.5" y2="334" stroke="#000" stroke-width="1.0" />
<line x1="107.5" y1="297.5" x2="107.5" y2="329.9" stroke="#000" stroke-width="1.0" />
<line x1="104.5" y1="297.5" x2="110.5" y2="297.5" stroke="#000" stroke-width="1.0" />
<line x1="104.5" y1="329.9" x2="110.5" y2="329.9" stroke="#000" stroke-width="1.0" />
<line x1="113.5" y1="284.2" x2="113.5" y2="334" stroke="#000" stroke-width="1.0" />
<line x1="110.5" y1="284.2" x2="116.5" y2="284.2" stroke="#000" stroke-width="1.0" />
<line x1="110.5" y1="334" x2="116.5" y2="334" stroke="#000" stroke-width="1.0" />
<line x1="126.5" y1="308.5" x2="126.5" y2="321" stroke="#000" stroke-width="1.0" />
<line x1="123.5" y1="308.5" x2="129.5" y2="308.5" stroke="#000" stroke-width="1.0" />
<line x1="123.5" y1="321" x2="129.5" y2="321" stroke="#000" stroke-width="1.0" />
<line x1="140.5" y1="313.6" x2="140.5" y2="336" stroke="#000" stroke-width="1.0" />
<line x1="137.5" y1="313.6" x2="143.5" y2="313.6" stroke="#000" stroke-width="1.0" />
<line x1="137.5" y1="336" x2="143.5" y2="336" stroke="#000" stroke-width="1.0" />
<line x1="158.5" y1="336.4" x2="158.5" y2="344" stroke="#000" stroke-width="1.0" />
<line x1="155.5" y1="336.4" x2="161.5" y2="336.4" stroke="#000" stroke-width="1.0" />
<line x1="155.5" y1="344" x2="161.5" y2="344" stroke="#000" stroke-width="1.0" />
<line x1="174.5" y1="322.9" x2="174.5" y2="339.5" stroke="#000" stroke-width="1.0" />
<line x1="171.5" y1="322.9" x2="177.5" y2="322.9" stroke="#000" stroke-width="1.0" />
<line x1="171.5" y1="339.5" x2="177.5" y2="339.5" stroke="#000" stroke-width="1.0" />
<line x1="190.5" y1="352" x2="190.5" y2="355.5" stroke="#000" stroke-width="1.0" />
<line x1="187.5" y1="352" x2="193.5" y2="352" stroke="#000" stroke-width="1.0" />
<line x1="187.5" y1="355.5" x2="193.5" y2="355.5" stroke="#000" stroke-width="1.0" />
<line x1="206.5" y1="334.1" x2="206.5" y2="341.6" stroke="#000" stroke-width="1.0" />
<line x1="203.5" y1="334.1" x2="209.5" y2="334.1" stroke="#000" stroke-width="1.0" />
<line x1="203.5" y1="341.6" x2="209.5" y2="341.6" stroke="#000" stroke-width="1.0" />
<line x1="223.5" y1="338.4" x2="223.5" y2="345.7" stroke="#000" stroke-width="1.0" />
<line x1="220.5" y1="338.4" x2="226.5" y2="338.4" stroke="#000" stroke-width="1.0" />
<line x1="220.5" y1="345.7" x2="226.5" y2="345.7" stroke="#000" stroke-width="1.0" />
<polyline points="59.18,340.5 93.92,298.4 99.71,320.4 107.43,313.6 113.22,308.9 126.73,314.9 140.24,325 158,340.5 174.25,331.2 190.5,353.7 206.75,337.6 223,341.6" fill="none" stroke="#000" stroke-width="2.2" stroke-linejoin="miter"/>
<rect x="56.88" y="338.2" width="4.6" height="4.6" fill="#000"/>
<rect x="91.62" y="296.1" width="4.6" height="4.6" fill="#000"/>
<rect x="97.41" y="318.1" width="4.6" height="4.6" fill="#000"/>
<rect x="105.13" y="311.3" width="4.6" height="4.6" fill="#000"/>
<rect x="110.92" y="306.6" width="4.6" height="4.6" fill="#000"/>
<rect x="124.43" y="312.6" width="4.6" height="4.6" fill="#000"/>
<rect x="137.94" y="322.7" width="4.6" height="4.6" fill="#000"/>
<rect x="155.7" y="338.2" width="4.6" height="4.6" fill="#000"/>
<rect x="171.95" y="328.9" width="4.6" height="4.6" fill="#000"/>
<rect x="188.2" y="351.4" width="4.6" height="4.6" fill="#000"/>
<rect x="204.45" y="335.3" width="4.6" height="4.6" fill="#000"/>
<rect x="220.7" y="339.3" width="4.6" height="4.6" fill="#000"/>
<line x1="93.5" y1="309.4" x2="93.5" y2="315.5" stroke="#d80c1c" stroke-width="1.0" />
<line x1="90.5" y1="309.4" x2="96.5" y2="309.4" stroke="#d80c1c" stroke-width="1.0" />
<line x1="90.5" y1="315.5" x2="96.5" y2="315.5" stroke="#d80c1c" stroke-width="1.0" />
<line x1="99.5" y1="303" x2="99.5" y2="326" stroke="#d80c1c" stroke-width="1.0" />
<line x1="96.5" y1="303" x2="102.5" y2="303" stroke="#d80c1c" stroke-width="1.0" />
<line x1="96.5" y1="326" x2="102.5" y2="326" stroke="#d80c1c" stroke-width="1.0" />
<line x1="107.5" y1="261" x2="107.5" y2="296.6" stroke="#d80c1c" stroke-width="1.0" />
<line x1="104.5" y1="261" x2="110.5" y2="261" stroke="#d80c1c" stroke-width="1.0" />
<line x1="104.5" y1="296.6" x2="110.5" y2="296.6" stroke="#d80c1c" stroke-width="1.0" />
<line x1="113.5" y1="277.4" x2="113.5" y2="334.2" stroke="#d80c1c" stroke-width="1.0" />
<line x1="110.5" y1="277.4" x2="116.5" y2="277.4" stroke="#d80c1c" stroke-width="1.0" />
<line x1="110.5" y1="334.2" x2="116.5" y2="334.2" stroke="#d80c1c" stroke-width="1.0" />
<line x1="126.5" y1="322" x2="126.5" y2="332.3" stroke="#d80c1c" stroke-width="1.0" />
<line x1="123.5" y1="322" x2="129.5" y2="322" stroke="#d80c1c" stroke-width="1.0" />
<line x1="123.5" y1="332.3" x2="129.5" y2="332.3" stroke="#d80c1c" stroke-width="1.0" />
<line x1="140.5" y1="326.8" x2="140.5" y2="336" stroke="#d80c1c" stroke-width="1.0" />
<line x1="137.5" y1="326.8" x2="143.5" y2="326.8" stroke="#d80c1c" stroke-width="1.0" />
<line x1="137.5" y1="336" x2="143.5" y2="336" stroke="#d80c1c" stroke-width="1.0" />
<line x1="158.5" y1="339" x2="158.5" y2="345.4" stroke="#d80c1c" stroke-width="1.0" />
<line x1="155.5" y1="339" x2="161.5" y2="339" stroke="#d80c1c" stroke-width="1.0" />
<line x1="155.5" y1="345.4" x2="161.5" y2="345.4" stroke="#d80c1c" stroke-width="1.0" />
<line x1="174.5" y1="338" x2="174.5" y2="342.5" stroke="#d80c1c" stroke-width="1.0" />
<line x1="171.5" y1="338" x2="177.5" y2="338" stroke="#d80c1c" stroke-width="1.0" />
<line x1="171.5" y1="342.5" x2="177.5" y2="342.5" stroke="#d80c1c" stroke-width="1.0" />
<line x1="190.5" y1="352" x2="190.5" y2="355.5" stroke="#d80c1c" stroke-width="1.0" />
<line x1="187.5" y1="352" x2="193.5" y2="352" stroke="#d80c1c" stroke-width="1.0" />
<line x1="187.5" y1="355.5" x2="193.5" y2="355.5" stroke="#d80c1c" stroke-width="1.0" />
<line x1="206.5" y1="325.5" x2="206.5" y2="331.5" stroke="#d80c1c" stroke-width="1.0" />
<line x1="203.5" y1="325.5" x2="209.5" y2="325.5" stroke="#d80c1c" stroke-width="1.0" />
<line x1="203.5" y1="331.5" x2="209.5" y2="331.5" stroke="#d80c1c" stroke-width="1.0" />
<line x1="223.5" y1="338" x2="223.5" y2="346" stroke="#d80c1c" stroke-width="1.0" />
<line x1="220.5" y1="338" x2="226.5" y2="338" stroke="#d80c1c" stroke-width="1.0" />
<line x1="220.5" y1="346" x2="226.5" y2="346" stroke="#d80c1c" stroke-width="1.0" />
<polyline points="59.18,340.5 93.92,311.5 99.71,320.5 107.43,281.1 113.22,304.8 126.73,326.8 140.24,330.4 158,342.8 174.25,340.2 190.5,353.7 206.75,328.4 223,341.9" fill="none" stroke="#d80c1c" stroke-width="2.2" stroke-linejoin="miter"/>
<path d="M59.18 337.48L61.98 342.52L56.38 342.52Z" fill="#d80c1c"/>
<rect x="56.68" y="338" width="5" height="5" fill="#a8141a"/>
<path d="M93.92 308.48L96.72 313.52L91.12 313.52Z" fill="#d80c1c"/>
<path d="M99.71 317.48L102.51 322.52L96.91 322.52Z" fill="#d80c1c"/>
<rect x="97.21" y="318" width="5" height="5" fill="#a8141a"/>
<path d="M107.43 278.08L110.23 283.12L104.63 283.12Z" fill="#d80c1c"/>
<path d="M113.22 301.78L116.02 306.82L110.42 306.82Z" fill="#d80c1c"/>
<path d="M126.73 323.78L129.53 328.82L123.93 328.82Z" fill="#d80c1c"/>
<path d="M140.24 327.38L143.04 332.42L137.44 332.42Z" fill="#d80c1c"/>
<path d="M158 339.78L160.8 344.82L155.2 344.82Z" fill="#d80c1c"/>
<path d="M174.25 337.18L177.05 342.22L171.45 342.22Z" fill="#d80c1c"/>
<path d="M190.5 350.68L193.3 355.72L187.7 355.72Z" fill="#d80c1c"/>
<rect x="188" y="351.2" width="5" height="5" fill="#a8141a"/>
<path d="M206.75 325.38L209.55 330.42L203.95 330.42Z" fill="#d80c1c"/>
<path d="M223 338.88L225.8 343.92L220.2 343.92Z" fill="#d80c1c"/>
<rect x="220.5" y="339.4" width="5" height="5" fill="#a8141a"/>
<rect x="145.7" y="240" width="5.3" height="117.2" fill="#fff"/>
<line x1="48" y1="242.7" x2="48" y2="361" stroke="#000" stroke-width="1.6" />
<line x1="44" y1="360.2" x2="48" y2="360.2" stroke="#000" stroke-width="1.6" />
<text x="42.9" y="363.1" font-size="8.2" font-weight="bold" text-anchor="end" fill="#000" stroke="#000" stroke-width="0.3" >0</text>
<line x1="44" y1="340.75" x2="48" y2="340.75" stroke="#000" stroke-width="1.6" />
<text x="42.9" y="343.65" font-size="8.2" font-weight="bold" text-anchor="end" fill="#000" stroke="#000" stroke-width="0.3" >100</text>
<line x1="44" y1="321.3" x2="48" y2="321.3" stroke="#000" stroke-width="1.6" />
<text x="42.9" y="324.2" font-size="8.2" font-weight="bold" text-anchor="end" fill="#000" stroke="#000" stroke-width="0.3" >200</text>
<line x1="44" y1="301.85" x2="48" y2="301.85" stroke="#000" stroke-width="1.6" />
<text x="42.9" y="304.75" font-size="8.2" font-weight="bold" text-anchor="end" fill="#000" stroke="#000" stroke-width="0.3" >300</text>
<line x1="44" y1="282.4" x2="48" y2="282.4" stroke="#000" stroke-width="1.6" />
<text x="42.9" y="285.3" font-size="8.2" font-weight="bold" text-anchor="end" fill="#000" stroke="#000" stroke-width="0.3" >400</text>
<line x1="44" y1="262.95" x2="48" y2="262.95" stroke="#000" stroke-width="1.6" />
<text x="42.9" y="265.85" font-size="8.2" font-weight="bold" text-anchor="end" fill="#000" stroke="#000" stroke-width="0.3" >500</text>
<line x1="44" y1="243.5" x2="48" y2="243.5" stroke="#000" stroke-width="1.6" />
<text x="42.9" y="246.4" font-size="8.2" font-weight="bold" text-anchor="end" fill="#000" stroke="#000" stroke-width="0.3" >600</text>
<line x1="47.2" y1="360.2" x2="144.9" y2="360.2" stroke="#000" stroke-width="1.6" />
<line x1="47.6" y1="360.2" x2="47.6" y2="364.2" stroke="#000" stroke-width="1.6" />
<text x="47.6" y="373" font-size="8.2" font-weight="bold" text-anchor="middle" fill="#000" stroke="#000" stroke-width="0.3" >-20</text>
<line x1="66.9" y1="360.2" x2="66.9" y2="364.2" stroke="#000" stroke-width="1.6" />
<text x="66.9" y="373" font-size="8.2" font-weight="bold" text-anchor="middle" fill="#000" stroke="#000" stroke-width="0.3" >-10</text>
<line x1="86.2" y1="360.2" x2="86.2" y2="364.2" stroke="#000" stroke-width="1.6" />
<text x="86.2" y="373" font-size="8.2" font-weight="bold" text-anchor="middle" fill="#000" stroke="#000" stroke-width="0.3" >0</text>
<line x1="105.5" y1="360.2" x2="105.5" y2="364.2" stroke="#000" stroke-width="1.6" />
<text x="105.5" y="373" font-size="8.2" font-weight="bold" text-anchor="middle" fill="#000" stroke="#000" stroke-width="0.3" >10</text>
<line x1="124.8" y1="360.2" x2="124.8" y2="364.2" stroke="#000" stroke-width="1.6" />
<text x="124.8" y="373" font-size="8.2" font-weight="bold" text-anchor="middle" fill="#000" stroke="#000" stroke-width="0.3" >20</text>
<line x1="144.1" y1="360.2" x2="144.1" y2="364.2" stroke="#000" stroke-width="1.6" />
<text x="144.1" y="373" font-size="8.2" font-weight="bold" text-anchor="middle" fill="#000" stroke="#000" stroke-width="0.3" >30</text>
<line x1="144.1" y1="357.6" x2="144.1" y2="363.2" stroke="#000" stroke-width="1.6" />
<line x1="152.3" y1="360.2" x2="223.7" y2="360.2" stroke="#000" stroke-width="1.6" />
<line x1="158" y1="360.2" x2="158" y2="364.2" stroke="#000" stroke-width="1.6" />
<text x="158" y="373" font-size="8.2" font-weight="bold" text-anchor="middle" fill="#000" stroke="#000" stroke-width="0.3" >60</text>
<line x1="174.25" y1="360.2" x2="174.25" y2="364.2" stroke="#000" stroke-width="1.6" />
<text x="174.25" y="373" font-size="8.2" font-weight="bold" text-anchor="middle" fill="#000" stroke="#000" stroke-width="0.3" >90</text>
<line x1="190.5" y1="360.2" x2="190.5" y2="364.2" stroke="#000" stroke-width="1.6" />
<text x="190.5" y="373" font-size="8.2" font-weight="bold" text-anchor="middle" fill="#000" stroke="#000" stroke-width="0.3" >120</text>
<line x1="206.75" y1="360.2" x2="206.75" y2="364.2" stroke="#000" stroke-width="1.6" />
<text x="206.75" y="373" font-size="8.2" font-weight="bold" text-anchor="middle" fill="#000" stroke="#000" stroke-width="0.3" >150</text>
<line x1="223" y1="360.2" x2="223" y2="364.2" stroke="#000" stroke-width="1.6" />
<text x="223" y="373" font-size="8.2" font-weight="bold" text-anchor="middle" fill="#000" stroke="#000" stroke-width="0.3" >180</text>
<line x1="153.1" y1="357.6" x2="153.1" y2="363.2" stroke="#000" stroke-width="1.6" />
<text x="128" y="387.7" font-size="8.6" font-weight="bold" text-anchor="start" fill="#000" stroke="#000" stroke-width="0.3" >Days</text>
<line x1="181.8" y1="261.2" x2="198.9" y2="261.2" stroke="#000" stroke-width="2.0" />
<rect x="188.1" y="258.95" width="4.5" height="4.5" fill="#000"/>
<text x="201.6" y="264.5" font-size="9.4" font-weight="normal" text-anchor="start" fill="#000" stroke="#000" stroke-width="0.3" >SMs</text>
<line x1="181.8" y1="275.6" x2="198.9" y2="275.6" stroke="#d80c1c" stroke-width="2.0" />
<path d="M190.35 272.36L193.35 277.76L187.35 277.76Z" fill="#d80c1c"/>
<text x="201.6" y="278.9" font-size="9.4" font-weight="normal" text-anchor="start" fill="#000" stroke="#000" stroke-width="0.3" >RMs</text>
<text x="0" y="0" font-size="8.6" font-weight="bold" text-anchor="middle" fill="#000" stroke="#000" stroke-width="0.3" transform="translate(10.5,301.8) rotate(-90)">% Ki-67+ among memory CD4+</text>
<text x="0" y="0" font-size="8.6" font-weight="bold" text-anchor="middle" fill="#000" stroke="#000" stroke-width="0.3" transform="translate(20.4,301.9) rotate(-90)">(as % of baseline)</text>
<line x1="373.75" y1="243.8" x2="373.75" y2="360.8" stroke="#000" stroke-width="1.9" stroke-dasharray="3 2.3"/>
<line x1="408.7" y1="243.8" x2="408.7" y2="360.8" stroke="#000" stroke-width="1.9" stroke-dasharray="3 2.3"/>
<line x1="408.5" y1="302.8" x2="408.5" y2="314.8" stroke="#000" stroke-width="1.0" />
<line x1="405.5" y1="302.8" x2="411.5" y2="302.8" stroke="#000" stroke-width="1.0" />
<line x1="405.5" y1="314.8" x2="411.5" y2="314.8" stroke="#000" stroke-width="1.0" />
<line x1="447.5" y1="282.5" x2="447.5" y2="305.8" stroke="#000" stroke-width="1.0" />
<line x1="444.5" y1="282.5" x2="450.5" y2="282.5" stroke="#000" stroke-width="1.0" />
<line x1="444.5" y1="305.8" x2="450.5" y2="305.8" stroke="#000" stroke-width="1.0" />
<line x1="506.5" y1="270.7" x2="506.5" y2="295.1" stroke="#000" stroke-width="1.0" />
<line x1="503.5" y1="270.7" x2="509.5" y2="270.7" stroke="#000" stroke-width="1.0" />
<line x1="503.5" y1="295.1" x2="509.5" y2="295.1" stroke="#000" stroke-width="1.0" />
<polyline points="359.77,302.8 408.7,308.8 447.14,294.1 506.56,283" fill="none" stroke="#000" stroke-width="1.6" stroke-linejoin="miter"/>
<rect x="357.47" y="300.5" width="4.6" height="4.6" fill="#000"/>
<rect x="406.4" y="306.5" width="4.6" height="4.6" fill="#000"/>
<rect x="444.84" y="291.8" width="4.6" height="4.6" fill="#000"/>
<rect x="504.26" y="280.7" width="4.6" height="4.6" fill="#000"/>
<line x1="408.5" y1="313.5" x2="408.5" y2="333" stroke="#d80c1c" stroke-width="1.0" />
<line x1="405.5" y1="313.5" x2="411.5" y2="313.5" stroke="#d80c1c" stroke-width="1.0" />
<line x1="405.5" y1="333" x2="411.5" y2="333" stroke="#d80c1c" stroke-width="1.0" />
<line x1="447.5" y1="294" x2="447.5" y2="303" stroke="#d80c1c" stroke-width="1.0" />
<line x1="444.5" y1="294" x2="450.5" y2="294" stroke="#d80c1c" stroke-width="1.0" />
<line x1="444.5" y1="303" x2="450.5" y2="303" stroke="#d80c1c" stroke-width="1.0" />
<line x1="506.5" y1="259" x2="506.5" y2="306.4" stroke="#d80c1c" stroke-width="1.0" />
<line x1="503.5" y1="259" x2="509.5" y2="259" stroke="#d80c1c" stroke-width="1.0" />
<line x1="503.5" y1="306.4" x2="509.5" y2="306.4" stroke="#d80c1c" stroke-width="1.0" />
<polyline points="359.77,302.8 408.7,323 447.14,298.4 506.56,283" fill="none" stroke="#d80c1c" stroke-width="1.6" stroke-linejoin="miter"/>
<path d="M359.77 299.78L362.57 304.82L356.97 304.82Z" fill="#d80c1c"/>
<rect x="357.27" y="300.3" width="5" height="5" fill="#a8141a"/>
<path d="M408.7 319.98L411.5 325.02L405.9 325.02Z" fill="#d80c1c"/>
<path d="M447.14 295.38L449.94 300.42L444.34 300.42Z" fill="#d80c1c"/>
<path d="M506.56 279.98L509.36 285.02L503.76 285.02Z" fill="#d80c1c"/>
<rect x="504.06" y="280.5" width="5" height="5" fill="#a8141a"/>
<line x1="338.8" y1="243.5" x2="338.8" y2="361.6" stroke="#000" stroke-width="1.6" />
<line x1="334.8" y1="360.8" x2="338.8" y2="360.8" stroke="#000" stroke-width="1.6" />
<text x="333.7" y="363.7" font-size="8.2" font-weight="bold" text-anchor="end" fill="#000" stroke="#000" stroke-width="0.3" >0</text>
<line x1="334.8" y1="331.68" x2="338.8" y2="331.68" stroke="#000" stroke-width="1.6" />
<text x="333.7" y="334.57" font-size="8.2" font-weight="bold" text-anchor="end" fill="#000" stroke="#000" stroke-width="0.3" >50</text>
<line x1="334.8" y1="302.55" x2="338.8" y2="302.55" stroke="#000" stroke-width="1.6" />
<text x="333.7" y="305.45" font-size="8.2" font-weight="bold" text-anchor="end" fill="#000" stroke="#000" stroke-width="0.3" >100</text>
<line x1="334.8" y1="273.43" x2="338.8" y2="273.43" stroke="#000" stroke-width="1.6" />
<text x="333.7" y="276.32" font-size="8.2" font-weight="bold" text-anchor="end" fill="#000" stroke="#000" stroke-width="0.3" >150</text>
<line x1="334.8" y1="244.3" x2="338.8" y2="244.3" stroke="#000" stroke-width="1.6" />
<text x="333.7" y="247.2" font-size="8.2" font-weight="bold" text-anchor="end" fill="#000" stroke="#000" stroke-width="0.3" >200</text>
<line x1="338" y1="360.8" x2="514.35" y2="360.8" stroke="#000" stroke-width="1.6" />
<line x1="338.8" y1="360.8" x2="338.8" y2="364.8" stroke="#000" stroke-width="1.6" />
<text x="338.8" y="373.6" font-size="8.2" font-weight="bold" text-anchor="middle" fill="#000" stroke="#000" stroke-width="0.3" >-20</text>
<line x1="373.75" y1="360.8" x2="373.75" y2="364.8" stroke="#000" stroke-width="1.6" />
<text x="373.75" y="373.6" font-size="8.2" font-weight="bold" text-anchor="middle" fill="#000" stroke="#000" stroke-width="0.3" >-10</text>
<line x1="408.7" y1="360.8" x2="408.7" y2="364.8" stroke="#000" stroke-width="1.6" />
<text x="408.7" y="373.6" font-size="8.2" font-weight="bold" text-anchor="middle" fill="#000" stroke="#000" stroke-width="0.3" >0</text>
<line x1="443.65" y1="360.8" x2="443.65" y2="364.8" stroke="#000" stroke-width="1.6" />
<text x="443.65" y="373.6" font-size="8.2" font-weight="bold" text-anchor="middle" fill="#000" stroke="#000" stroke-width="0.3" >10</text>
<line x1="478.6" y1="360.8" x2="478.6" y2="364.8" stroke="#000" stroke-width="1.6" />
<text x="478.6" y="373.6" font-size="8.2" font-weight="bold" text-anchor="middle" fill="#000" stroke="#000" stroke-width="0.3" >20</text>
<line x1="513.55" y1="360.8" x2="513.55" y2="364.8" stroke="#000" stroke-width="1.6" />
<text x="513.55" y="373.6" font-size="8.2" font-weight="bold" text-anchor="middle" fill="#000" stroke="#000" stroke-width="0.3" >30</text>
<text x="410.8" y="387.9" font-size="8.6" font-weight="bold" text-anchor="start" fill="#000" stroke="#000" stroke-width="0.3" >Days</text>
<line x1="456.6" y1="325" x2="473.4" y2="325" stroke="#000" stroke-width="2.0" />
<rect x="462.75" y="322.75" width="4.5" height="4.5" fill="#000"/>
<text x="475" y="328.3" font-size="9.4" font-weight="normal" text-anchor="start" fill="#000" stroke="#000" stroke-width="0.3" >SMs</text>
<line x1="456.6" y1="339.7" x2="473.4" y2="339.7" stroke="#d80c1c" stroke-width="2.0" />
<path d="M465 336.46L468 341.86L462 341.86Z" fill="#d80c1c"/>
<text x="475" y="343" font-size="9.4" font-weight="normal" text-anchor="start" fill="#000" stroke="#000" stroke-width="0.3" >RMs</text>
<text x="0" y="0" font-size="8.6" font-weight="bold" text-anchor="middle" fill="#000" stroke="#000" stroke-width="0.3" transform="translate(301,302.6) rotate(-90)">% Ki-67+ among memory CD4+</text>
<text x="0" y="0" font-size="8.6" font-weight="bold" text-anchor="middle" fill="#000" stroke="#000" stroke-width="0.3" transform="translate(310.6,303.1) rotate(-90)">(as % of baseline)</text>
<line x1="78.7" y1="458.5" x2="78.7" y2="577.1" stroke="#000" stroke-width="1.9" stroke-dasharray="3 2.3"/>
<line x1="82.3" y1="458.5" x2="82.3" y2="577.1" stroke="#000" stroke-width="1.9" stroke-dasharray="3 2.3"/>
<line x1="82.5" y1="565" x2="82.5" y2="570" stroke="#000" stroke-width="1.0" />
<line x1="79.5" y1="565" x2="85.5" y2="565" stroke="#000" stroke-width="1.0" />
<line x1="79.5" y1="570" x2="85.5" y2="570" stroke="#000" stroke-width="1.0" />
<line x1="88.5" y1="547.8" x2="88.5" y2="566.6" stroke="#000" stroke-width="1.0" />
<line x1="85.5" y1="547.8" x2="91.5" y2="547.8" stroke="#000" stroke-width="1.0" />
<line x1="85.5" y1="566.6" x2="91.5" y2="566.6" stroke="#000" stroke-width="1.0" />
<line x1="93.5" y1="566" x2="93.5" y2="571" stroke="#000" stroke-width="1.0" />
<line x1="90.5" y1="566" x2="96.5" y2="566" stroke="#000" stroke-width="1.0" />
<line x1="90.5" y1="571" x2="96.5" y2="571" stroke="#000" stroke-width="1.0" />
<line x1="99.5" y1="559.9" x2="99.5" y2="571.5" stroke="#000" stroke-width="1.0" />
<line x1="96.5" y1="559.9" x2="102.5" y2="559.9" stroke="#000" stroke-width="1.0" />
<line x1="96.5" y1="571.5" x2="102.5" y2="571.5" stroke="#000" stroke-width="1.0" />
<line x1="104.5" y1="569" x2="104.5" y2="573.5" stroke="#000" stroke-width="1.0" />
<line x1="101.5" y1="569" x2="107.5" y2="569" stroke="#000" stroke-width="1.0" />
<line x1="101.5" y1="573.5" x2="107.5" y2="573.5" stroke="#000" stroke-width="1.0" />
<line x1="116.5" y1="573" x2="116.5" y2="576" stroke="#000" stroke-width="1.0" />
<line x1="113.5" y1="573" x2="119.5" y2="573" stroke="#000" stroke-width="1.0" />
<line x1="113.5" y1="576" x2="119.5" y2="576" stroke="#000" stroke-width="1.0" />
<line x1="127.5" y1="556" x2="127.5" y2="565" stroke="#000" stroke-width="1.0" />
<line x1="124.5" y1="556" x2="130.5" y2="556" stroke="#000" stroke-width="1.0" />
<line x1="124.5" y1="565" x2="130.5" y2="565" stroke="#000" stroke-width="1.0" />
<line x1="179.5" y1="566" x2="179.5" y2="571" stroke="#000" stroke-width="1.0" />
<line x1="176.5" y1="566" x2="182.5" y2="566" stroke="#000" stroke-width="1.0" />
<line x1="176.5" y1="571" x2="182.5" y2="571" stroke="#000" stroke-width="1.0" />
<line x1="227.5" y1="567" x2="227.5" y2="571.5" stroke="#000" stroke-width="1.0" />
<line x1="224.5" y1="567" x2="230.5" y2="567" stroke="#000" stroke-width="1.0" />
<line x1="224.5" y1="571.5" x2="230.5" y2="571.5" stroke="#000" stroke-width="1.0" />
<polyline points="59.31,569.4 82,567.3 88.48,557.2 93.35,568.6 99.83,565.7 104.69,571.3 116.04,574.7 127.39,560.5 179.26,568.6 227.89,569.3" fill="none" stroke="#000" stroke-width="2.2" stroke-linejoin="miter"/>
<rect x="57.01" y="567.1" width="4.6" height="4.6" fill="#000"/>
<rect x="79.7" y="565" width="4.6" height="4.6" fill="#000"/>
<rect x="86.18" y="554.9" width="4.6" height="4.6" fill="#000"/>
<rect x="91.05" y="566.3" width="4.6" height="4.6" fill="#000"/>
<rect x="97.53" y="563.4" width="4.6" height="4.6" fill="#000"/>
<rect x="102.39" y="569" width="4.6" height="4.6" fill="#000"/>
<rect x="113.74" y="572.4" width="4.6" height="4.6" fill="#000"/>
<rect x="125.09" y="558.2" width="4.6" height="4.6" fill="#000"/>
<rect x="176.96" y="566.3" width="4.6" height="4.6" fill="#000"/>
<rect x="225.59" y="567" width="4.6" height="4.6" fill="#000"/>
<line x1="82.5" y1="568" x2="82.5" y2="572" stroke="#d80c1c" stroke-width="1.0" />
<line x1="79.5" y1="568" x2="85.5" y2="568" stroke="#d80c1c" stroke-width="1.0" />
<line x1="79.5" y1="572" x2="85.5" y2="572" stroke="#d80c1c" stroke-width="1.0" />
<line x1="88.5" y1="562" x2="88.5" y2="570" stroke="#d80c1c" stroke-width="1.0" />
<line x1="85.5" y1="562" x2="91.5" y2="562" stroke="#d80c1c" stroke-width="1.0" />
<line x1="85.5" y1="570" x2="91.5" y2="570" stroke="#d80c1c" stroke-width="1.0" />
<line x1="93.5" y1="560" x2="93.5" y2="568" stroke="#d80c1c" stroke-width="1.0" />
<line x1="90.5" y1="560" x2="96.5" y2="560" stroke="#d80c1c" stroke-width="1.0" />
<line x1="90.5" y1="568" x2="96.5" y2="568" stroke="#d80c1c" stroke-width="1.0" />
<line x1="99.5" y1="526.2" x2="99.5" y2="552" stroke="#d80c1c" stroke-width="1.0" />
<line x1="96.5" y1="526.2" x2="102.5" y2="526.2" stroke="#d80c1c" stroke-width="1.0" />
<line x1="96.5" y1="552" x2="102.5" y2="552" stroke="#d80c1c" stroke-width="1.0" />
<line x1="104.5" y1="567" x2="104.5" y2="571.5" stroke="#d80c1c" stroke-width="1.0" />
<line x1="101.5" y1="567" x2="107.5" y2="567" stroke="#d80c1c" stroke-width="1.0" />
<line x1="101.5" y1="571.5" x2="107.5" y2="571.5" stroke="#d80c1c" stroke-width="1.0" />
<line x1="116.5" y1="559.2" x2="116.5" y2="568.6" stroke="#d80c1c" stroke-width="1.0" />
<line x1="113.5" y1="559.2" x2="119.5" y2="559.2" stroke="#d80c1c" stroke-width="1.0" />
<line x1="113.5" y1="568.6" x2="119.5" y2="568.6" stroke="#d80c1c" stroke-width="1.0" />
<line x1="127.5" y1="555.9" x2="127.5" y2="566.6" stroke="#d80c1c" stroke-width="1.0" />
<line x1="124.5" y1="555.9" x2="130.5" y2="555.9" stroke="#d80c1c" stroke-width="1.0" />
<line x1="124.5" y1="566.6" x2="130.5" y2="566.6" stroke="#d80c1c" stroke-width="1.0" />
<line x1="179.5" y1="530.7" x2="179.5" y2="561.7" stroke="#d80c1c" stroke-width="1.0" />
<line x1="176.5" y1="530.7" x2="182.5" y2="530.7" stroke="#d80c1c" stroke-width="1.0" />
<line x1="176.5" y1="561.7" x2="182.5" y2="561.7" stroke="#d80c1c" stroke-width="1.0" />
<line x1="227.5" y1="567" x2="227.5" y2="571" stroke="#d80c1c" stroke-width="1.0" />
<line x1="224.5" y1="567" x2="230.5" y2="567" stroke="#d80c1c" stroke-width="1.0" />
<line x1="224.5" y1="571" x2="230.5" y2="571" stroke="#d80c1c" stroke-width="1.0" />
<polyline points="59.31,569.4 82,570 88.48,566 93.35,563.9 99.83,539 104.69,569.3 116.04,564.6 127.39,561.2 179.26,546.9 227.89,568.8" fill="none" stroke="#d80c1c" stroke-width="2.2" stroke-linejoin="miter"/>
<path d="M59.31 566.38L62.11 571.42L56.51 571.42Z" fill="#d80c1c"/>
<rect x="56.81" y="566.9" width="5" height="5" fill="#a8141a"/>
<path d="M82 566.98L84.8 572.02L79.2 572.02Z" fill="#d80c1c"/>
<path d="M88.48 562.98L91.28 568.02L85.68 568.02Z" fill="#d80c1c"/>
<path d="M93.35 560.88L96.15 565.92L90.55 565.92Z" fill="#d80c1c"/>
<path d="M99.83 535.98L102.63 541.02L97.03 541.02Z" fill="#d80c1c"/>
<path d="M104.69 566.28L107.49 571.32L101.89 571.32Z" fill="#d80c1c"/>
<path d="M116.04 561.58L118.84 566.62L113.24 566.62Z" fill="#d80c1c"/>
<path d="M127.39 558.18L130.19 563.22L124.59 563.22Z" fill="#d80c1c"/>
<rect x="124.89" y="558.7" width="5" height="5" fill="#a8141a"/>
<path d="M179.26 543.88L182.06 548.92L176.46 548.92Z" fill="#d80c1c"/>
<path d="M227.89 565.78L230.69 570.82L225.09 570.82Z" fill="#d80c1c"/>
<rect x="225.39" y="566.3" width="5" height="5" fill="#a8141a"/>
<line x1="49.4" y1="457.9" x2="49.4" y2="577.9" stroke="#000" stroke-width="1.6" />
<line x1="45.4" y1="577.1" x2="49.4" y2="577.1" stroke="#000" stroke-width="1.6" />
<text x="44.3" y="580" font-size="8.2" font-weight="bold" text-anchor="end" fill="#000" stroke="#000" stroke-width="0.3" >0</text>
<line x1="45.4" y1="553.42" x2="49.4" y2="553.42" stroke="#000" stroke-width="1.6" />
<text x="44.3" y="556.32" font-size="8.2" font-weight="bold" text-anchor="end" fill="#000" stroke="#000" stroke-width="0.3" >300</text>
<line x1="45.4" y1="529.74" x2="49.4" y2="529.74" stroke="#000" stroke-width="1.6" />
<text x="44.3" y="532.64" font-size="8.2" font-weight="bold" text-anchor="end" fill="#000" stroke="#000" stroke-width="0.3" >600</text>
<line x1="45.4" y1="506.06" x2="49.4" y2="506.06" stroke="#000" stroke-width="1.6" />
<text x="44.3" y="508.96" font-size="8.2" font-weight="bold" text-anchor="end" fill="#000" stroke="#000" stroke-width="0.3" >900</text>
<line x1="45.4" y1="482.38" x2="49.4" y2="482.38" stroke="#000" stroke-width="1.6" />
<text x="44.3" y="485.28" font-size="8.2" font-weight="bold" text-anchor="end" fill="#000" stroke="#000" stroke-width="0.3" >1200</text>
<line x1="45.4" y1="458.7" x2="49.4" y2="458.7" stroke="#000" stroke-width="1.6" />
<text x="44.3" y="461.6" font-size="8.2" font-weight="bold" text-anchor="end" fill="#000" stroke="#000" stroke-width="0.3" >1500</text>
<line x1="48.6" y1="577.1" x2="228.69" y2="577.1" stroke="#000" stroke-width="1.6" />
<line x1="49.58" y1="577.1" x2="49.58" y2="581.1" stroke="#000" stroke-width="1.6" />
<text x="49.58" y="589.9" font-size="8.2" font-weight="bold" text-anchor="middle" fill="#000" stroke="#000" stroke-width="0.3" >-20</text>
<line x1="65.79" y1="577.1" x2="65.79" y2="581.1" stroke="#000" stroke-width="1.6" />
<text x="65.79" y="589.9" font-size="8.2" font-weight="bold" text-anchor="middle" fill="#000" stroke="#000" stroke-width="0.3" >-10</text>
<line x1="82" y1="577.1" x2="82" y2="581.1" stroke="#000" stroke-width="1.6" />
<text x="82" y="589.9" font-size="8.2" font-weight="bold" text-anchor="middle" fill="#000" stroke="#000" stroke-width="0.3" >0</text>
<line x1="98.21" y1="577.1" x2="98.21" y2="581.1" stroke="#000" stroke-width="1.6" />
<text x="98.21" y="589.9" font-size="8.2" font-weight="bold" text-anchor="middle" fill="#000" stroke="#000" stroke-width="0.3" >10</text>
<line x1="114.42" y1="577.1" x2="114.42" y2="581.1" stroke="#000" stroke-width="1.6" />
<text x="114.42" y="589.9" font-size="8.2" font-weight="bold" text-anchor="middle" fill="#000" stroke="#000" stroke-width="0.3" >20</text>
<line x1="130.63" y1="577.1" x2="130.63" y2="581.1" stroke="#000" stroke-width="1.6" />
<text x="130.63" y="589.9" font-size="8.2" font-weight="bold" text-anchor="middle" fill="#000" stroke="#000" stroke-width="0.3" >30</text>
<line x1="146.84" y1="577.1" x2="146.84" y2="581.1" stroke="#000" stroke-width="1.6" />
<text x="146.84" y="589.9" font-size="8.2" font-weight="bold" text-anchor="middle" fill="#000" stroke="#000" stroke-width="0.3" >40</text>
<line x1="163.05" y1="577.1" x2="163.05" y2="581.1" stroke="#000" stroke-width="1.6" />
<text x="163.05" y="589.9" font-size="8.2" font-weight="bold" text-anchor="middle" fill="#000" stroke="#000" stroke-width="0.3" >50</text>
<line x1="179.26" y1="577.1" x2="179.26" y2="581.1" stroke="#000" stroke-width="1.6" />
<text x="179.26" y="589.9" font-size="8.2" font-weight="bold" text-anchor="middle" fill="#000" stroke="#000" stroke-width="0.3" >60</text>
<line x1="195.47" y1="577.1" x2="195.47" y2="581.1" stroke="#000" stroke-width="1.6" />
<text x="195.47" y="589.9" font-size="8.2" font-weight="bold" text-anchor="middle" fill="#000" stroke="#000" stroke-width="0.3" >70</text>
<line x1="211.68" y1="577.1" x2="211.68" y2="581.1" stroke="#000" stroke-width="1.6" />
<text x="211.68" y="589.9" font-size="8.2" font-weight="bold" text-anchor="middle" fill="#000" stroke="#000" stroke-width="0.3" >80</text>
<line x1="227.89" y1="577.1" x2="227.89" y2="581.1" stroke="#000" stroke-width="1.6" />
<text x="227.89" y="589.9" font-size="8.2" font-weight="bold" text-anchor="middle" fill="#000" stroke="#000" stroke-width="0.3" >90</text>
<text x="130.6" y="606.9" font-size="8.6" font-weight="bold" text-anchor="start" fill="#000" stroke="#000" stroke-width="0.3" >Days</text>
<line x1="185.5" y1="476.8" x2="203" y2="476.8" stroke="#000" stroke-width="2.0" />
<rect x="192" y="474.55" width="4.5" height="4.5" fill="#000"/>
<text x="205.7" y="480.1" font-size="9.4" font-weight="normal" text-anchor="start" fill="#000" stroke="#000" stroke-width="0.3" >SMs</text>
<line x1="185.5" y1="490.7" x2="203" y2="490.7" stroke="#d80c1c" stroke-width="2.0" />
<path d="M194.25 487.46L197.25 492.86L191.25 492.86Z" fill="#d80c1c"/>
<text x="205.7" y="494" font-size="9.4" font-weight="normal" text-anchor="start" fill="#000" stroke="#000" stroke-width="0.3" >RMs</text>
<text x="0" y="0" font-size="8.65" font-weight="bold" text-anchor="middle" fill="#000" stroke="#000" stroke-width="0.3" transform="translate(9.1,517.8) rotate(-90)">% Ki-67+ among CD4+</text>
<text x="0" y="0" font-size="8.65" font-weight="bold" text-anchor="middle" fill="#000" stroke="#000" stroke-width="0.3" transform="translate(18.8,517.55) rotate(-90)">(as % of baseline)</text>
<line x1="353.2" y1="458.5" x2="353.2" y2="577.3" stroke="#000" stroke-width="1.9" stroke-dasharray="3 2.3"/>
<line x1="356.8" y1="458.5" x2="356.8" y2="577.3" stroke="#000" stroke-width="1.9" stroke-dasharray="3 2.3"/>
<line x1="356.5" y1="556" x2="356.5" y2="561" stroke="#000" stroke-width="1.0" />
<line x1="353.5" y1="556" x2="359.5" y2="556" stroke="#000" stroke-width="1.0" />
<line x1="353.5" y1="561" x2="359.5" y2="561" stroke="#000" stroke-width="1.0" />
<line x1="367.5" y1="472.6" x2="367.5" y2="520" stroke="#000" stroke-width="1.0" />
<line x1="364.5" y1="472.6" x2="370.5" y2="472.6" stroke="#000" stroke-width="1.0" />
<line x1="364.5" y1="520" x2="370.5" y2="520" stroke="#000" stroke-width="1.0" />
<line x1="374.5" y1="555" x2="374.5" y2="561.5" stroke="#000" stroke-width="1.0" />
<line x1="371.5" y1="555" x2="377.5" y2="555" stroke="#000" stroke-width="1.0" />
<line x1="371.5" y1="561.5" x2="377.5" y2="561.5" stroke="#000" stroke-width="1.0" />
<line x1="379.5" y1="571" x2="379.5" y2="575" stroke="#000" stroke-width="1.0" />
<line x1="376.5" y1="571" x2="382.5" y2="571" stroke="#000" stroke-width="1.0" />
<line x1="376.5" y1="575" x2="382.5" y2="575" stroke="#000" stroke-width="1.0" />
<line x1="390.5" y1="570.5" x2="390.5" y2="574.5" stroke="#000" stroke-width="1.0" />
<line x1="387.5" y1="570.5" x2="393.5" y2="570.5" stroke="#000" stroke-width="1.0" />
<line x1="387.5" y1="574.5" x2="393.5" y2="574.5" stroke="#000" stroke-width="1.0" />
<line x1="401.5" y1="541.3" x2="401.5" y2="560" stroke="#000" stroke-width="1.0" />
<line x1="398.5" y1="541.3" x2="404.5" y2="541.3" stroke="#000" stroke-width="1.0" />
<line x1="398.5" y1="560" x2="404.5" y2="560" stroke="#000" stroke-width="1.0" />
<line x1="453.5" y1="567.5" x2="453.5" y2="571.5" stroke="#000" stroke-width="1.0" />
<line x1="450.5" y1="567.5" x2="456.5" y2="567.5" stroke="#000" stroke-width="1.0" />
<line x1="450.5" y1="571.5" x2="456.5" y2="571.5" stroke="#000" stroke-width="1.0" />
<line x1="502.5" y1="567" x2="502.5" y2="570.5" stroke="#000" stroke-width="1.0" />
<line x1="499.5" y1="567" x2="505.5" y2="567" stroke="#000" stroke-width="1.0" />
<line x1="499.5" y1="570.5" x2="505.5" y2="570.5" stroke="#000" stroke-width="1.0" />
<polyline points="333.91,569 356.6,558.7 367.95,496 374.43,558 379.29,573 390.64,572.5 401.99,550.8 453.86,569.5 502.49,568.8" fill="none" stroke="#000" stroke-width="2.2" stroke-linejoin="miter"/>
<rect x="331.61" y="566.7" width="4.6" height="4.6" fill="#000"/>
<rect x="354.3" y="556.4" width="4.6" height="4.6" fill="#000"/>
<rect x="365.65" y="493.7" width="4.6" height="4.6" fill="#000"/>
<rect x="372.13" y="555.7" width="4.6" height="4.6" fill="#000"/>
<rect x="376.99" y="570.7" width="4.6" height="4.6" fill="#000"/>
<rect x="388.34" y="570.2" width="4.6" height="4.6" fill="#000"/>
<rect x="399.69" y="548.5" width="4.6" height="4.6" fill="#000"/>
<rect x="451.56" y="567.2" width="4.6" height="4.6" fill="#000"/>
<rect x="500.19" y="566.5" width="4.6" height="4.6" fill="#000"/>
<line x1="356.5" y1="564" x2="356.5" y2="569" stroke="#d80c1c" stroke-width="1.0" />
<line x1="353.5" y1="564" x2="359.5" y2="564" stroke="#d80c1c" stroke-width="1.0" />
<line x1="353.5" y1="569" x2="359.5" y2="569" stroke="#d80c1c" stroke-width="1.0" />
<line x1="363.5" y1="537.2" x2="363.5" y2="562" stroke="#d80c1c" stroke-width="1.0" />
<line x1="360.5" y1="537.2" x2="366.5" y2="537.2" stroke="#d80c1c" stroke-width="1.0" />
<line x1="360.5" y1="562" x2="366.5" y2="562" stroke="#d80c1c" stroke-width="1.0" />
<line x1="367.5" y1="557" x2="367.5" y2="563" stroke="#d80c1c" stroke-width="1.0" />
<line x1="364.5" y1="557" x2="370.5" y2="557" stroke="#d80c1c" stroke-width="1.0" />
<line x1="364.5" y1="563" x2="370.5" y2="563" stroke="#d80c1c" stroke-width="1.0" />
<line x1="374.5" y1="557.7" x2="374.5" y2="565" stroke="#d80c1c" stroke-width="1.0" />
<line x1="371.5" y1="557.7" x2="377.5" y2="557.7" stroke="#d80c1c" stroke-width="1.0" />
<line x1="371.5" y1="565" x2="377.5" y2="565" stroke="#d80c1c" stroke-width="1.0" />
<line x1="379.5" y1="571" x2="379.5" y2="575" stroke="#d80c1c" stroke-width="1.0" />
<line x1="376.5" y1="571" x2="382.5" y2="571" stroke="#d80c1c" stroke-width="1.0" />
<line x1="376.5" y1="575" x2="382.5" y2="575" stroke="#d80c1c" stroke-width="1.0" />
<line x1="390.5" y1="563" x2="390.5" y2="569" stroke="#d80c1c" stroke-width="1.0" />
<line x1="387.5" y1="563" x2="393.5" y2="563" stroke="#d80c1c" stroke-width="1.0" />
<line x1="387.5" y1="569" x2="393.5" y2="569" stroke="#d80c1c" stroke-width="1.0" />
<line x1="401.5" y1="558.8" x2="401.5" y2="571.3" stroke="#d80c1c" stroke-width="1.0" />
<line x1="398.5" y1="558.8" x2="404.5" y2="558.8" stroke="#d80c1c" stroke-width="1.0" />
<line x1="398.5" y1="571.3" x2="404.5" y2="571.3" stroke="#d80c1c" stroke-width="1.0" />
<line x1="453.5" y1="552.5" x2="453.5" y2="561.3" stroke="#d80c1c" stroke-width="1.0" />
<line x1="450.5" y1="552.5" x2="456.5" y2="552.5" stroke="#d80c1c" stroke-width="1.0" />
<line x1="450.5" y1="561.3" x2="456.5" y2="561.3" stroke="#d80c1c" stroke-width="1.0" />
<line x1="502.5" y1="569.5" x2="502.5" y2="573" stroke="#d80c1c" stroke-width="1.0" />
<line x1="499.5" y1="569.5" x2="505.5" y2="569.5" stroke="#d80c1c" stroke-width="1.0" />
<line x1="499.5" y1="573" x2="505.5" y2="573" stroke="#d80c1c" stroke-width="1.0" />
<polyline points="333.91,569 356.6,566.6 363.08,550.3 367.95,560 374.43,560 379.29,573.1 390.64,566 401.99,565 453.86,557.5 502.49,571.3" fill="none" stroke="#d80c1c" stroke-width="2.2" stroke-linejoin="miter"/>
<path d="M333.91 565.98L336.71 571.02L331.11 571.02Z" fill="#d80c1c"/>
<rect x="331.41" y="566.5" width="5" height="5" fill="#a8141a"/>
<path d="M356.6 563.58L359.4 568.62L353.8 568.62Z" fill="#d80c1c"/>
<path d="M363.08 547.28L365.88 552.32L360.28 552.32Z" fill="#d80c1c"/>
<path d="M367.95 556.98L370.75 562.02L365.15 562.02Z" fill="#d80c1c"/>
<path d="M374.43 556.98L377.23 562.02L371.63 562.02Z" fill="#d80c1c"/>
<path d="M379.29 570.08L382.09 575.12L376.49 575.12Z" fill="#d80c1c"/>
<rect x="376.79" y="570.6" width="5" height="5" fill="#a8141a"/>
<path d="M390.64 562.98L393.44 568.02L387.84 568.02Z" fill="#d80c1c"/>
<path d="M401.99 561.98L404.79 567.02L399.19 567.02Z" fill="#d80c1c"/>
<path d="M453.86 554.48L456.66 559.52L451.06 559.52Z" fill="#d80c1c"/>
<path d="M502.49 568.28L505.29 573.32L499.69 573.32Z" fill="#d80c1c"/>
<line x1="323.8" y1="457.9" x2="323.8" y2="578.1" stroke="#000" stroke-width="1.6" />
<line x1="319.8" y1="577.3" x2="323.8" y2="577.3" stroke="#000" stroke-width="1.6" />
<text x="318.7" y="580.2" font-size="8.2" font-weight="bold" text-anchor="end" fill="#000" stroke="#000" stroke-width="0.3" >0</text>
<line x1="319.8" y1="553.58" x2="323.8" y2="553.58" stroke="#000" stroke-width="1.6" />
<text x="318.7" y="556.48" font-size="8.2" font-weight="bold" text-anchor="end" fill="#000" stroke="#000" stroke-width="0.3" >300</text>
<line x1="319.8" y1="529.86" x2="323.8" y2="529.86" stroke="#000" stroke-width="1.6" />
<text x="318.7" y="532.76" font-size="8.2" font-weight="bold" text-anchor="end" fill="#000" stroke="#000" stroke-width="0.3" >600</text>
<line x1="319.8" y1="506.14" x2="323.8" y2="506.14" stroke="#000" stroke-width="1.6" />
<text x="318.7" y="509.04" font-size="8.2" font-weight="bold" text-anchor="end" fill="#000" stroke="#000" stroke-width="0.3" >900</text>
<line x1="319.8" y1="482.42" x2="323.8" y2="482.42" stroke="#000" stroke-width="1.6" />
<text x="318.7" y="485.32" font-size="8.2" font-weight="bold" text-anchor="end" fill="#000" stroke="#000" stroke-width="0.3" >1200</text>
<line x1="319.8" y1="458.7" x2="323.8" y2="458.7" stroke="#000" stroke-width="1.6" />
<text x="318.7" y="461.6" font-size="8.2" font-weight="bold" text-anchor="end" fill="#000" stroke="#000" stroke-width="0.3" >1500</text>
<line x1="323" y1="577.3" x2="503.29" y2="577.3" stroke="#000" stroke-width="1.6" />
<line x1="324.18" y1="577.3" x2="324.18" y2="581.3" stroke="#000" stroke-width="1.6" />
<text x="324.18" y="590.1" font-size="8.2" font-weight="bold" text-anchor="middle" fill="#000" stroke="#000" stroke-width="0.3" >-20</text>
<line x1="340.39" y1="577.3" x2="340.39" y2="581.3" stroke="#000" stroke-width="1.6" />
<text x="340.39" y="590.1" font-size="8.2" font-weight="bold" text-anchor="middle" fill="#000" stroke="#000" stroke-width="0.3" >-10</text>
<line x1="356.6" y1="577.3" x2="356.6" y2="581.3" stroke="#000" stroke-width="1.6" />
<text x="356.6" y="590.1" font-size="8.2" font-weight="bold" text-anchor="middle" fill="#000" stroke="#000" stroke-width="0.3" >0</text>
<line x1="372.81" y1="577.3" x2="372.81" y2="581.3" stroke="#000" stroke-width="1.6" />
<text x="372.81" y="590.1" font-size="8.2" font-weight="bold" text-anchor="middle" fill="#000" stroke="#000" stroke-width="0.3" >10</text>
<line x1="389.02" y1="577.3" x2="389.02" y2="581.3" stroke="#000" stroke-width="1.6" />
<text x="389.02" y="590.1" font-size="8.2" font-weight="bold" text-anchor="middle" fill="#000" stroke="#000" stroke-width="0.3" >20</text>
<line x1="405.23" y1="577.3" x2="405.23" y2="581.3" stroke="#000" stroke-width="1.6" />
<text x="405.23" y="590.1" font-size="8.2" font-weight="bold" text-anchor="middle" fill="#000" stroke="#000" stroke-width="0.3" >30</text>
<line x1="421.44" y1="577.3" x2="421.44" y2="581.3" stroke="#000" stroke-width="1.6" />
<text x="421.44" y="590.1" font-size="8.2" font-weight="bold" text-anchor="middle" fill="#000" stroke="#000" stroke-width="0.3" >40</text>
<line x1="437.65" y1="577.3" x2="437.65" y2="581.3" stroke="#000" stroke-width="1.6" />
<text x="437.65" y="590.1" font-size="8.2" font-weight="bold" text-anchor="middle" fill="#000" stroke="#000" stroke-width="0.3" >50</text>
<line x1="453.86" y1="577.3" x2="453.86" y2="581.3" stroke="#000" stroke-width="1.6" />
<text x="453.86" y="590.1" font-size="8.2" font-weight="bold" text-anchor="middle" fill="#000" stroke="#000" stroke-width="0.3" >60</text>
<line x1="470.07" y1="577.3" x2="470.07" y2="581.3" stroke="#000" stroke-width="1.6" />
<text x="470.07" y="590.1" font-size="8.2" font-weight="bold" text-anchor="middle" fill="#000" stroke="#000" stroke-width="0.3" >70</text>
<line x1="486.28" y1="577.3" x2="486.28" y2="581.3" stroke="#000" stroke-width="1.6" />
<text x="486.28" y="590.1" font-size="8.2" font-weight="bold" text-anchor="middle" fill="#000" stroke="#000" stroke-width="0.3" >80</text>
<line x1="502.49" y1="577.3" x2="502.49" y2="581.3" stroke="#000" stroke-width="1.6" />
<text x="502.49" y="590.1" font-size="8.2" font-weight="bold" text-anchor="middle" fill="#000" stroke="#000" stroke-width="0.3" >90</text>
<text x="404.6" y="606.9" font-size="8.6" font-weight="bold" text-anchor="start" fill="#000" stroke="#000" stroke-width="0.3" >Days</text>
<line x1="460.2" y1="471.8" x2="477.7" y2="471.8" stroke="#000" stroke-width="2.0" />
<rect x="466.7" y="469.55" width="4.5" height="4.5" fill="#000"/>
<text x="480.1" y="475.1" font-size="9.4" font-weight="normal" text-anchor="start" fill="#000" stroke="#000" stroke-width="0.3" >SMs</text>
<line x1="460.2" y1="486" x2="477.7" y2="486" stroke="#d80c1c" stroke-width="2.0" />
<path d="M468.95 482.76L471.95 488.16L465.95 488.16Z" fill="#d80c1c"/>
<text x="480.1" y="489.3" font-size="9.4" font-weight="normal" text-anchor="start" fill="#000" stroke="#000" stroke-width="0.3" >RMs</text>
<text x="0" y="0" font-size="8.65" font-weight="bold" text-anchor="middle" fill="#000" stroke="#000" stroke-width="0.3" transform="translate(281.4,518.5) rotate(-90)">% Ki-67+ among CD8+</text>
<text x="0" y="0" font-size="8.65" font-weight="bold" text-anchor="middle" fill="#000" stroke="#000" stroke-width="0.3" transform="translate(291.4,518.05) rotate(-90)">(as % of baseline)</text>
</svg>
</body></html>
